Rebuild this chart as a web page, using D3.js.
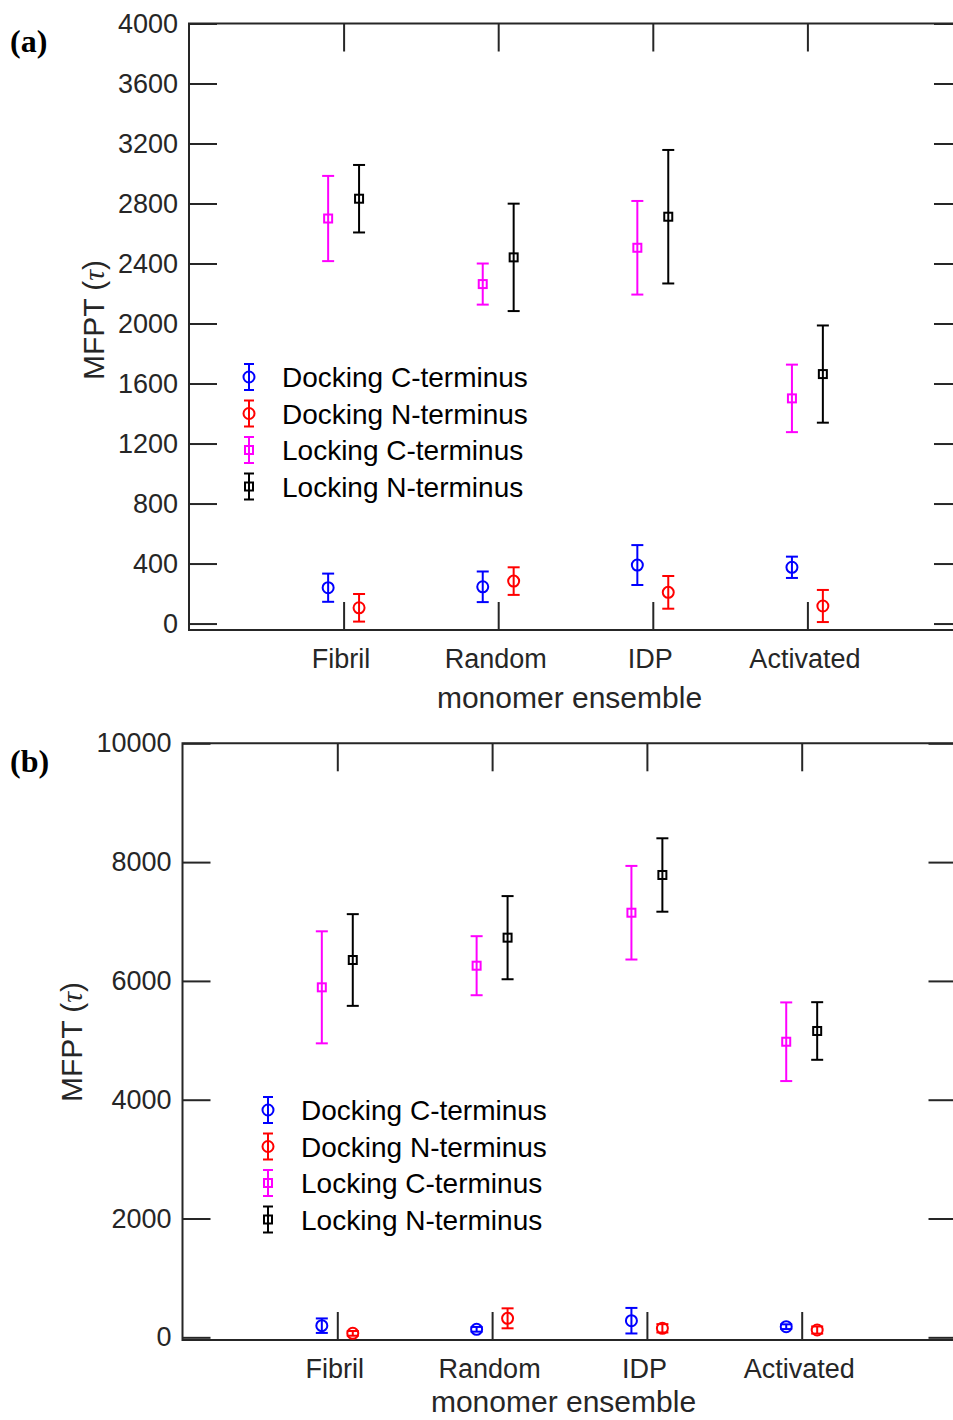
<!DOCTYPE html>
<html>
<head>
<meta charset="utf-8">
<script src="https://cdn.jsdelivr.net/npm/d3@7"></script>
<style>
  body { margin: 0; background: #fff; }
  svg { display: block; }
  .tick text { font-family: "Liberation Sans", Arial, sans-serif; fill: #262626; }
  .tick line { stroke: #262626; stroke-width: 2; }
</style>
</head>
<body>
<svg id="fig"></svg>
<script>
// categories and legend entries
const categories = ["Fibril", "Random", "IDP", "Activated"];
const seriesNames = ["Docking C-terminus", "Docking N-terminus", "Locking C-terminus", "Locking N-terminus"];
const seriesColors = ["#0000ff", "#ff0000", "#ff00ff", "#000000"];
const seriesMarkers = ["circle", "circle", "square", "square"];
const seriesOffsets = [-0.1, 0.1, -0.1, 0.1];

// panel (a) means and errors
const aDockC = [239, 245, 390, 375];
const aDockCErr = [94, 102, 133, 71];
const aDockN = [105, 283, 208, 117];
const aDockNErr = [92, 92, 109, 107];
const aLockC = [2700, 2263, 2505, 1501];
const aLockCErr = [284, 137, 312, 225];
const aLockN = [2832, 2441, 2712, 1663];
const aLockNErr = [225, 358, 445, 324];
const aTicks = [0, 400, 800, 1200, 1600, 2000, 2400, 2800, 3200, 3600, 4000];

// panel (b) means and errors
const bDockC = [196, 135, 280, 179];
const bDockCErr = [122, 40, 215, 40];
const bDockN = [67, 320, 152, 123];
const bDockNErr = [40, 168, 70, 60];
const bLockC = [5892, 6256, 7148, 4976];
const bLockCErr = [943, 497, 788, 662];
const bLockN = [6352, 6728, 7783, 5157];
const bLockNErr = [772, 700, 618, 485];
const bTicks = [0, 2000, 4000, 6000, 8000, 10000];

const svg = d3.select("#fig").attr("width", 953).attr("height", 1420);
const font = "'Liberation Sans', Arial, sans-serif";

function drawPanel(cfg) {
  const x = d3.scaleLinear().domain([0, 5]).range([cfg.left, cfg.right]);
  const y = d3.scaleLinear().domain(cfg.yDomain).range([cfg.bottom, cfg.top]);
  const g = svg.append("g");

  // axes, ticks pointing inward
  const yAxisG = g.append("g")
    .attr("transform", `translate(${cfg.left},0)`)
    .call(d3.axisLeft(y).tickValues(cfg.ticks).tickSize(-28).tickPadding(11).tickFormat(d3.format("d")));
  const yAxisRG = g.append("g")
    .attr("transform", `translate(${cfg.right},0)`)
    .call(d3.axisRight(y).tickValues(cfg.ticks).tickSize(-28).tickFormat(""));
  const xAxisG = g.append("g")
    .attr("transform", `translate(0,${cfg.bottom})`)
    .call(d3.axisBottom(x).tickValues([1, 2, 3, 4]).tickSize(-28).tickPadding(19)
      .tickFormat(d => categories[d - 1]));
  xAxisG.selectAll(".tick text").attr("dx", -3);
  const xAxisTG = g.append("g")
    .attr("transform", `translate(0,${cfg.top})`)
    .call(d3.axisTop(x).tickValues([1, 2, 3, 4]).tickSize(-28).tickFormat(""));
  [yAxisG, yAxisRG, xAxisG, xAxisTG].forEach(a => a.select(".domain").remove());
  g.selectAll(".tick text").style("font-size", "27px").attr("fill", "#262626");

  // box
  g.append("path")
    .attr("d", `M${cfg.right},${cfg.top}H${cfg.left}V${cfg.bottom}H${cfg.right}V${cfg.top}`)
    .attr("fill", "none").attr("stroke", "#262626").attr("stroke-width", 2);

  // error bars
  cfg.series.forEach((s, i) => {
    const color = seriesColors[i];
    const pts = s.vals.map((v, j) => ({ cx: x(j + 1 + seriesOffsets[i]), v, e: s.errs[j] }));
    const sg = g.append("g").attr("stroke", color).attr("stroke-width", 2).attr("fill", "none");
    pts.forEach(p => {
      const y0 = y(p.v - p.e), y1 = y(p.v + p.e);
      sg.append("line").attr("x1", p.cx).attr("x2", p.cx).attr("y1", y0).attr("y2", y1);
      sg.append("line").attr("x1", p.cx - 6).attr("x2", p.cx + 6).attr("y1", y0).attr("y2", y0);
      sg.append("line").attr("x1", p.cx - 6).attr("x2", p.cx + 6).attr("y1", y1).attr("y2", y1);
      drawMarker(sg, seriesMarkers[i], p.cx, y(p.v));
    });
  });

  // legend
  seriesNames.forEach((name, i) => {
    const ly = cfg.legendY + i * 36.5;
    const lg = g.append("g").attr("stroke", seriesColors[i]).attr("stroke-width", 2).attr("fill", "none");
    const lx = cfg.legendX;
    lg.append("line").attr("x1", lx).attr("x2", lx).attr("y1", ly - 13).attr("y2", ly + 13);
    lg.append("line").attr("x1", lx - 5).attr("x2", lx + 5).attr("y1", ly - 13).attr("y2", ly - 13);
    lg.append("line").attr("x1", lx - 5).attr("x2", lx + 5).attr("y1", ly + 13).attr("y2", ly + 13);
    drawMarker(lg, seriesMarkers[i], lx, ly);
    g.append("text")
      .attr("x", lx + 33).attr("y", ly + 10)
      .attr("font-family", font).attr("font-size", 28).attr("fill", "#000")
      .text(name);
  });

  // axis titles
  g.append("text")
    .attr("x", (cfg.left + cfg.right) / 2 - 6).attr("y", cfg.bottom + cfg.xLabelGap)
    .attr("text-anchor", "middle")
    .attr("font-family", font).attr("font-size", 30).attr("fill", "#262626")
    .text("monomer ensemble");
  const yl = g.append("text")
    .attr("transform", `translate(${cfg.yLabelX},${cfg.yLabelY}) rotate(-90)`)
    .attr("text-anchor", "middle")
    .attr("font-family", font).attr("font-size", 30).attr("fill", "#262626");
  yl.append("tspan").text("MFPT (");
  yl.append("tspan").attr("font-family", "'Liberation Serif', serif").attr("font-style", "italic").text("τ");
  yl.append("tspan").text(")");

  // panel label
  svg.append("text")
    .attr("x", 10).attr("y", cfg.labelY)
    .attr("font-family", "'Liberation Serif', 'Times New Roman', serif")
    .attr("font-weight", "bold").attr("font-size", 32).attr("fill", "#000")
    .text(cfg.label);
}

function drawMarker(sel, type, cx, cy) {
  if (type === "circle") {
    sel.append("circle").attr("cx", cx).attr("cy", cy).attr("r", 5.5).attr("fill", "none");
  } else {
    sel.append("rect").attr("x", cx - 4).attr("y", cy - 4).attr("width", 8).attr("height", 8).attr("fill", "none");
  }
}

drawPanel({
  left: 189, right: 962, top: 23.5, bottom: 630,
  yDomain: [-43, 4000], ticks: aTicks,
  series: [
    { vals: aDockC, errs: aDockCErr },
    { vals: aDockN, errs: aDockNErr },
    { vals: aLockC, errs: aLockCErr },
    { vals: aLockN, errs: aLockNErr }
  ],
  legendX: 249, legendY: 377,
  yLabelX: 104, yLabelY: 320, xLabelGap: 78,
  label: "(a)", labelY: 52
});

drawPanel({
  left: 182.5, right: 956.5, top: 743.3, bottom: 1340,
  yDomain: [-45, 10000], ticks: bTicks,
  series: [
    { vals: bDockC, errs: bDockCErr },
    { vals: bDockN, errs: bDockNErr },
    { vals: bLockC, errs: bLockCErr },
    { vals: bLockN, errs: bLockNErr }
  ],
  legendX: 268, legendY: 1110,
  yLabelX: 82, yLabelY: 1042, xLabelGap: 72,
  label: "(b)", labelY: 772
});
</script>
</body>
</html>
